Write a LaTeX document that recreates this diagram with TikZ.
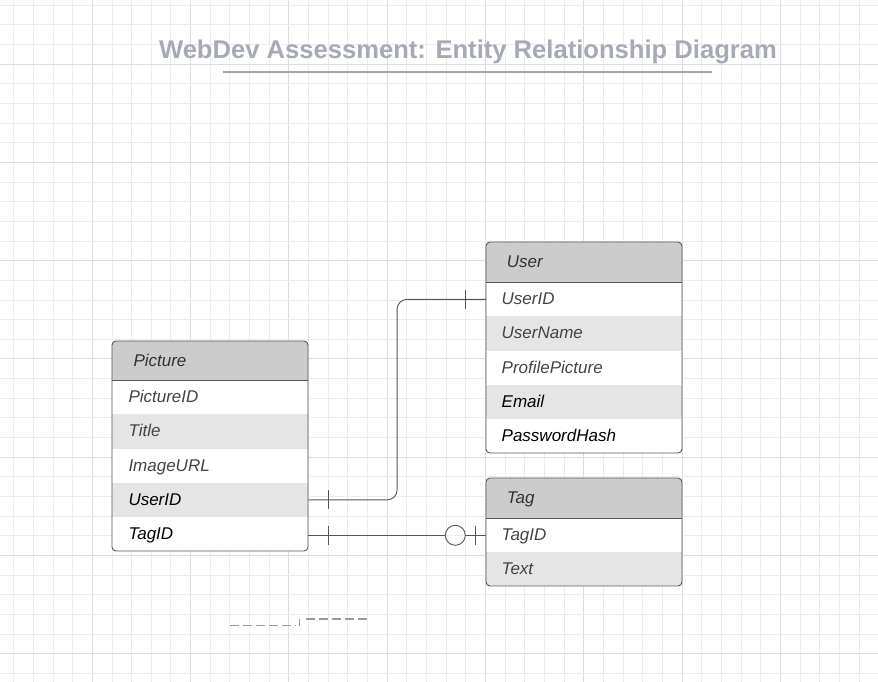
\documentclass[tikz,border=0pt]{standalone}
\usepackage{fontspec}
\setmainfont{Liberation Sans}
\usetikzlibrary{calc}
\definecolor{gridminor}{RGB}{236,236,236}
\definecolor{gridmajor}{RGB}{221,221,221}
\definecolor{titlegray}{RGB}{165,170,181}
\definecolor{linegray}{RGB}{160,165,176}
\definecolor{hdrfill}{RGB}{204,204,204}
\definecolor{rowgray}{RGB}{229,229,229}
\definecolor{txtgray}{RGB}{68,68,68}
\definecolor{hdrtxt}{RGB}{51,51,51}
\definecolor{conncol}{RGB}{85,85,85}
\definecolor{dashcol}{RGB}{153,153,153}
\begin{document}
\begin{tikzpicture}[x=1pt,y=-1pt,
  rowbase/.style={anchor=north west, minimum height=34.2pt, inner ysep=0pt,
    text height=14.3pt, text depth=3.6pt,
    align=left, font=\fontsize{17}{20}\selectfont\itshape, text=txtgray},
  urow/.style={rowbase, inner xsep=15.5pt, text width=165pt},
  prow/.style={rowbase, inner xsep=16.3pt, text width=163.4pt},
  uhdr/.style={urow, minimum height=40pt, fill=hdrfill, inner xsep=20.7pt, text width=154.6pt, text=hdrtxt},
  phdr/.style={prow, minimum height=39pt, fill=hdrfill, inner xsep=21.3pt, text width=153.4pt, text=hdrtxt},
  outline/.style={draw=conncol, line width=0.9pt, rounded corners=4pt},
  sep/.style={draw=conncol, line width=0.9pt},
  conn/.style={draw=conncol, line width=0.9pt},
  tick/.style={draw=conncol, line width=0.9pt},
  dashln/.style={draw=dashcol, line width=1.5pt, dash pattern=on 9pt off 4pt}
]
\useasboundingbox (0,0) rectangle (878,682);
\fill[white] (0,0) rectangle (878,682);
% grid
\foreach \k in {0,...,44}{
  \pgfmathsetmacro{\gx}{13.6+19.66*\k}
  \pgfmathtruncatemacro{\m}{mod(\k,5)}
  \ifnum\m=4 \draw[gridmajor, line width=0.9pt] (\gx,0) -- (\gx,682);
  \else \draw[gridminor, line width=0.8pt] (\gx,0) -- (\gx,682); \fi
}
\foreach \k in {0,...,34}{
  \pgfmathsetmacro{\gy}{5+19.66*\k}
  \pgfmathtruncatemacro{\m}{mod(\k,5)}
  \ifnum\m=3 \draw[gridmajor, line width=0.9pt] (0,\gy) -- (878,\gy);
  \else \draw[gridminor, line width=0.8pt] (0,\gy) -- (878,\gy); \fi
}
% title
\node[font=\fontsize{25.6}{30}\selectfont\bfseries, text=titlegray, text height=18pt, text depth=5pt, inner sep=0pt] (title) at (468,52.5) {WebDev Assessment: Entity Relationship Diagram};
\draw[linegray, line width=2pt] (223,72) -- (712,72);

% User table
\begin{scope}
\clip[rounded corners=4pt] (486,242) rectangle (682,453);
\fill[white] (486,242) rectangle (682,453);
\node[uhdr] (uHead) at (486,242) {User};
\node[urow] (uID) at (486,282) {UserID};
\node[urow, fill=rowgray] (uName) at (486,316.2) {UserName};
\node[urow] (uPic) at (486,350.4) {ProfilePicture};
\node[urow, fill=rowgray, text=black] (uMail) at (486,384.6) {Email};
\node[urow, text=black] (uHash) at (486,418.8) {PasswordHash};
\end{scope}
\draw[sep] (486,282) -- (682,282);
\draw[outline] (486,242) rectangle (682,453);

% Picture table
\begin{scope}
\clip[rounded corners=4pt] (112,341) rectangle (308,551);
\fill[white] (112,341) rectangle (308,551);
\node[phdr] (pHead) at (112,341) {Picture};
\node[prow] (pID) at (112,380) {PictureID};
\node[prow, fill=rowgray] (pTitle) at (112,414.2) {Title};
\node[prow] (pURL) at (112,448.4) {ImageURL};
\node[prow, fill=rowgray, text=black] (pUser) at (112,482.6) {UserID};
\node[prow, text=black] (pTag) at (112,516.8) {TagID};
\end{scope}
\draw[sep] (112,380) -- (308,380);
\draw[outline] (112,341) rectangle (308,551);

% Tag table
\begin{scope}
\clip[rounded corners=4pt] (486,478) rectangle (682,586);
\fill[white] (486,478) rectangle (682,586);
\node[uhdr] (tHead) at (486,478) {Tag};
\node[urow] (tID) at (486,518) {TagID};
\node[urow, fill=rowgray, minimum height=34pt] (tText) at (486,552) {Text};
\end{scope}
\draw[sep] (486,518) -- (682,518);
\draw[outline] (486,478) rectangle (682,586);

% connector Picture.UserID -> User.UserID
\draw[conn, rounded corners=10pt] (pUser.east) -- ++(88.7,0) |- (uID.west);
\draw[tick] ([xshift=20pt]pUser.east) ++(0,-9.5) -- ++(0,19);
\draw[tick] ([xshift=-21pt]uID.west) ++(0,-9.5) -- ++(0,19);

% connector Picture.TagID -> Tag.TagID
\coordinate (ring) at ($(tID.west)+(-30.7,0)$);
\draw[conn] (pTag.east |- tID.west) -- ($(ring)+(-10,0)$);
\draw[conn] ($(ring)+(10,0)$) -- (tID.west);
\draw[conn] (ring) circle (10pt);
\draw[tick] ([xshift=20pt]pTag.east |- tID.west) ++(0,-9.5) -- ++(0,19);
\draw[tick] ([xshift=-11pt]tID.west) ++(0,-9.5) -- ++(0,19);

% dashed lines
\draw[dashln] (230,625.7) -- (296,625.7);
\draw[dashcol, line width=1pt] (299.3,626) -- (299.3,619);
\draw[dashln] (306,619) -- (370,619);
\end{tikzpicture}
\end{document}
